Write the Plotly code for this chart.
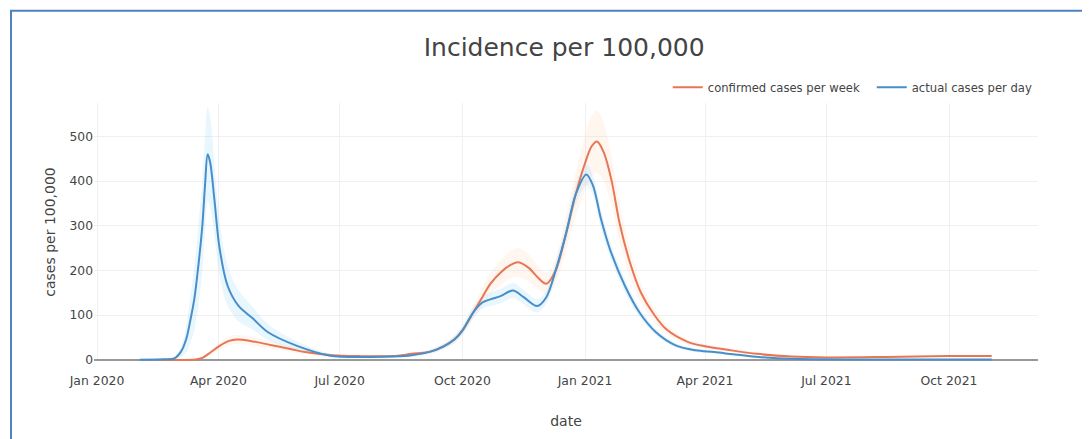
import plotly.graph_objects as go

# ---------------- data ----------------
blue_dates = ["2020-02-02", "2020-02-20", "2020-02-28", "2020-03-04", "2020-03-08", "2020-03-11",
              "2020-03-14", "2020-03-17", "2020-03-20", "2020-03-22", "2020-03-24", "2020-03-26",
              "2020-03-29", "2020-04-02", "2020-04-08", "2020-04-16", "2020-04-27", "2020-05-08",
              "2020-05-30", "2020-06-24", "2020-07-20", "2020-08-10", "2020-08-24", "2020-09-07",
              "2020-09-17", "2020-09-25", "2020-10-01", "2020-10-09", "2020-10-16", "2020-10-22",
              "2020-10-30", "2020-11-08", "2020-11-16", "2020-11-26", "2020-12-03", "2020-12-10",
              "2020-12-18", "2020-12-25", "2021-01-02", "2021-01-07", "2021-01-13", "2021-01-20",
              "2021-01-31", "2021-02-11", "2021-02-23", "2021-03-10", "2021-03-25", "2021-04-08",
              "2021-04-22", "2021-05-07", "2021-05-25", "2021-06-20", "2021-08-01", "2021-10-01",
              "2021-11-02"]
blue_values = [0, 1, 3, 18, 47, 88,
               136, 210, 300, 390, 460, 440,
               360, 248, 165, 121, 92, 62,
               31, 9, 6, 7, 10, 18,
               30, 45, 65, 105, 128, 135,
               143, 155, 140, 120, 140, 200,
               285, 370, 415, 390, 315, 245,
               165, 105, 62, 32, 21, 17,
               12, 7, 3, 1, 0.5, 0.5,
               0.5]
blue_band = [0, 1, 3, 12, 30, 50,
             70, 90, 100, 105, 105, 100,
             80, 60, 45, 35, 25, 18,
             10, 4, 3, 3, 4, 5,
             6, 8, 10, 12, 14, 15,
             16, 17, 16, 15, 15, 18,
             20, 22, 24, 22, 20, 18,
             14, 10, 7, 5, 4, 3,
             2, 2, 1, 1, 0.5, 0.5,
             0.5]

orange_dates = ["2020-02-15", "2020-03-15", "2020-03-20", "2020-03-26", "2020-04-02", "2020-04-09",
                "2020-04-15", "2020-04-25", "2020-05-10", "2020-05-25", "2020-06-05", "2020-06-25",
                "2020-07-15", "2020-08-10", "2020-08-24", "2020-09-07", "2020-09-17", "2020-09-25",
                "2020-10-01", "2020-10-09", "2020-10-16", "2020-10-22", "2020-10-30", "2020-11-05",
                "2020-11-12", "2020-11-20", "2020-11-27", "2020-12-03", "2020-12-10", "2020-12-18",
                "2020-12-25", "2021-01-01", "2021-01-06", "2021-01-10", "2021-01-15", "2021-01-21",
                "2021-01-27", "2021-02-04", "2021-02-12", "2021-02-22", "2021-03-03", "2021-03-19",
                "2021-04-01", "2021-04-18", "2021-05-10", "2021-06-05", "2021-07-01", "2021-08-15",
                "2021-10-01", "2021-11-02"]
orange_values = [0, 0.5, 4, 16, 31, 42,
                 45, 42, 33, 24, 17, 10,
                 8, 8, 13, 18, 30, 45,
                 65, 105, 140, 170, 196, 210,
                 218, 205, 183, 170, 200, 285,
                 370, 440, 478, 489, 465, 400,
                 305, 215, 150, 100, 68, 40,
                 30, 22, 13, 7, 5, 6,
                 8, 8]
orange_band = [0, 0.5, 2, 5, 8, 10,
               10, 10, 8, 6, 4, 3,
               2, 2, 3, 4, 6, 8,
               10, 14, 20, 24, 28, 30,
               32, 30, 26, 24, 28, 38,
               50, 62, 68, 70, 66, 56,
               44, 32, 22, 15, 10, 6,
               5, 4, 3, 2, 2, 2,
               2, 2]

ORANGE = "rgb(232,118,86)"
BLUE = "rgb(72,142,200)"
ORANGE_FILL = "rgba(255,200,155,0.16)"
BLUE_FILL = "rgba(160,218,250,0.24)"
FONT = "DejaVu Sans"

fig = go.Figure()

def band(dates, vals, half, fillcolor):
    up = [v + h for v, h in zip(vals, half)]
    lo = [max(v - h, 0) for v, h in zip(vals, half)]
    fig.add_trace(go.Scatter(x=dates, y=up, mode="lines", line=dict(width=0, shape="spline", smoothing=0.9),
                             showlegend=False, hoverinfo="skip"))
    fig.add_trace(go.Scatter(x=dates, y=lo, mode="lines", line=dict(width=0, shape="spline", smoothing=0.9),
                             fill="tonexty", fillcolor=fillcolor, showlegend=False, hoverinfo="skip"))

band(orange_dates, orange_values, orange_band, ORANGE_FILL)
band(blue_dates, blue_values, blue_band, BLUE_FILL)

fig.add_trace(go.Scatter(x=orange_dates, y=orange_values, mode="lines", name="confirmed cases per week",
                         line=dict(color=ORANGE, width=2, shape="spline", smoothing=0.9)))
fig.add_trace(go.Scatter(x=blue_dates, y=blue_values, mode="lines", name="actual cases per day",
                         line=dict(color=BLUE, width=2, shape="spline", smoothing=0.9)))

fig.update_layout(
    width=1082, height=431,
    margin=dict(l=86, r=52, t=95, b=76),
    paper_bgcolor="white", plot_bgcolor="white",
    font=dict(family=FONT, color="#444", size=12),
    title=dict(text="Incidence per 100,000", x=0.514, xanchor="center", y=0.9095, yanchor="middle",
               font=dict(size=25, color="#444", family=FONT)),
    legend=dict(orientation="h", x=1.04, xanchor="right", y=1.0615, yanchor="middle",
                traceorder="normal", entrywidth=159, entrywidthmode="pixels",
                font=dict(size=11.6, color="#444"), bgcolor="rgba(0,0,0,0)"),
    xaxis=dict(title=dict(text="date", font=dict(size=14), standoff=29),
               range=["2019-12-29 18:00", "2021-12-06 18:00"], showgrid=True, gridcolor="#f0f0f0",
               dtick="M3", tickformat="%b %Y", ticks="outside", ticklen=8,
               tickcolor="rgba(0,0,0,0)", tickfont=dict(size=12.4),
               showline=False, zeroline=False),
    yaxis=dict(title=dict(text="cases per 100,000", font=dict(size=14), standoff=10),
               range=[-3, 575], tickvals=[0, 100, 200, 300, 400, 500], showgrid=True,
               gridcolor="#f0f0f0", zeroline=True, zerolinecolor="#999", zerolinewidth=2,
               ticks="", showline=False, tickfont=dict(size=12.3)),
    shapes=[dict(type="rect", xref="paper", yref="paper", x0=-0.0879, x1=1.08, y0=-0.4, y1=1.3577,
                 line=dict(color="#4f81bd", width=2), fillcolor="rgba(0,0,0,0)", layer="below")],
)

fig.write_html("out.html")
